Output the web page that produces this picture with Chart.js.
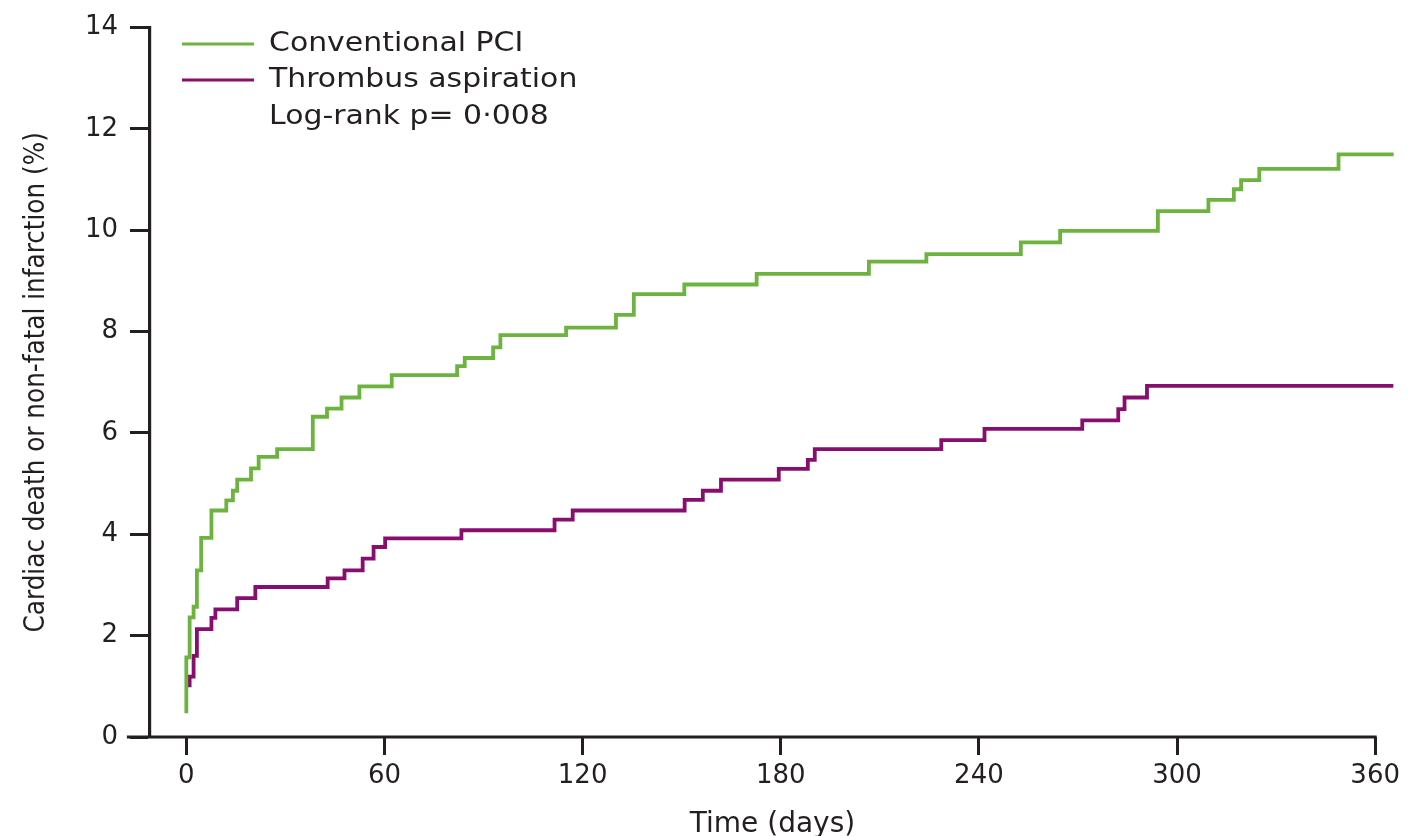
<!DOCTYPE html>
<html>
<head>
<meta charset="utf-8">
<script src="https://cdn.jsdelivr.net/npm/chart.js@4.4.0/dist/chart.umd.min.js"></script>
<style>
  html, body { margin: 0; padding: 0; background: #fff; }
  #wrap { width: 1413px; height: 836px; position: relative; }
</style>
</head>
<body>
<div id="wrap"><canvas id="kmChart"></canvas></div>
<script>
// tick labels
const xTicks = [0, 60, 120, 180, 240, 300, 360];
const yTicks = [0, 2, 4, 6, 8, 10, 12, 14];

// Conventional PCI: event day -> cumulative %
const pciDays = [0, 0, 1.0, 2.2, 3.2, 4.5, 7.6, 12.1, 14.1, 15.4, 19.6, 21.9, 27.5, 38.3, 42.6, 47.0, 52.4, 62.2,
  82.0, 84.3, 92.9, 95.1, 115.0, 130.1, 135.5, 150.8, 172.7, 206.7, 224.1, 252.7, 264.6, 294.2, 309.5,
  317.2, 319.4, 324.9, 348.9, 365.6];
const pciRisk = [0.47, 1.57, 2.36, 2.57, 3.29, 3.93, 4.47, 4.67, 4.86, 5.08, 5.30, 5.53, 5.68, 6.32, 6.48, 6.70, 6.92, 7.14,
  7.32, 7.48, 7.69, 7.93, 8.08, 8.33, 8.74, 8.93, 9.14, 9.38, 9.53, 9.76, 9.99, 10.38, 10.60,
  10.81, 10.99, 11.21, 11.50, 11.50];

// Thrombus aspiration
const aspDays = [1.0, 1.0, 2.2, 3.2, 7.6, 8.8, 15.4, 20.9, 42.8, 47.9, 53.4, 56.7, 60.2, 83.3, 111.5, 117.0, 150.9,
  156.4, 161.9, 179.4, 188.2, 190.3, 228.6, 241.7, 271.3, 282.2, 284.1, 290.9, 365.5];
const aspRisk = [0.98, 1.19, 1.60, 2.13, 2.35, 2.52, 2.74, 2.96, 3.13, 3.29, 3.52, 3.75, 3.92, 4.08, 4.29, 4.47, 4.68,
  4.86, 5.08, 5.29, 5.47, 5.68, 5.86, 6.08, 6.25, 6.47, 6.70, 6.93, 6.93];

const seriesLabels = ['Conventional PCI', 'Thrombus aspiration'];
const seriesColors = ['#6cb43f', '#870e6f'];
const pValueText = 'Log-rank p= 0\u00b7008';

const ink = '#231f20';

function toPoints(xs, ys) {
  return xs.map((x, i) => ({ x: x, y: ys[i] }));
}

// axis line that runs past the y spine and stops at day 360, plus the inset legend
const kmDecor = {
  id: 'kmDecor',
  afterDraw(chart) {
    const ctx = chart.ctx;
    const xs = chart.scales.x;
    const ys = chart.scales.y;
    const y0 = ys.getPixelForValue(0);
    ctx.save();
    ctx.strokeStyle = ink;
    ctx.lineWidth = 3.2;
    ctx.beginPath();
    ctx.moveTo(xs.getPixelForValue(-18), y0);
    ctx.lineTo(xs.getPixelForValue(xTicks[xTicks.length - 1]) + 1.5, y0);
    ctx.stroke();

    const rows = [51, 87, 124];
    ctx.font = '26px "DejaVu Sans"';
    ctx.textBaseline = 'alphabetic';
    ctx.fillStyle = '#231f20';
    chart.data.datasets.forEach((ds, i) => {
      ctx.strokeStyle = ds.borderColor;
      ctx.lineWidth = 3;
      ctx.beginPath();
      ctx.moveTo(182, rows[i] - 7);
      ctx.lineTo(254, rows[i] - 7);
      ctx.stroke();
    });
    const texts = seriesLabels.concat([pValueText]);
    texts.forEach((t, i) => {
      ctx.save();
      ctx.translate(269, rows[i]);
      ctx.scale(1.15, 1);
      ctx.fillText(t, 0, 0);
      ctx.restore();
    });
    ctx.restore();
  }
};

new Chart(document.getElementById('kmChart').getContext('2d'), {
  type: 'line',
  data: {
    datasets: [
      { label: seriesLabels[0], data: toPoints(pciDays, pciRisk), borderColor: seriesColors[0],
        borderWidth: 3.8, stepped: true, pointRadius: 0, fill: false },
      { label: seriesLabels[1], data: toPoints(aspDays, aspRisk), borderColor: seriesColors[1],
        borderWidth: 3.8, stepped: true, pointRadius: 0, fill: false }
    ]
  },
  options: {
    responsive: true,
    maintainAspectRatio: false,
    animation: false,
    devicePixelRatio: 1,
    layout: { padding: { top: 24, right: 18, left: 0, bottom: 0 } },
    plugins: { legend: { display: false }, tooltip: { enabled: false } },
    scales: {
      x: {
        type: 'linear',
        min: -11,
        max: 366,
        afterBuildTicks: (scale) => { scale.ticks = xTicks.map(v => ({ value: v })); },
        afterFit: (scale) => { scale.height = 99; },
        border: { display: false },
        grid: { drawOnChartArea: false, tickLength: 18, tickWidth: 3, tickColor: ink },
        ticks: { padding: 6, color: ink, font: { family: 'DejaVu Sans', size: 26 } },
        title: { display: true, text: 'Time (days)', color: ink, padding: { top: 0, bottom: -6 },
          font: { family: 'DejaVu Sans', size: 28 } }
      },
      y: {
        min: 0,
        max: 14,
        afterBuildTicks: (scale) => { scale.ticks = yTicks.map(v => ({ value: v })); },
        afterFit: (scale) => { scale.width = 150; },
        border: { display: true, color: ink, width: 3.2 },
        grid: { drawOnChartArea: false, tickLength: 20, tickWidth: 3, tickColor: ink },
        ticks: { padding: 12, color: ink, font: { family: 'DejaVu Sans', size: 26 } },
        title: { display: true, text: 'Cardiac death or non-fatal infarction (%)', color: ink,
          padding: { top: 20, bottom: 0 },
          font: { family: '"Liberation Sans Narrow", "DejaVu Sans Condensed", "DejaVu Sans"', size: 27.5 } }
      }
    }
  },
  plugins: [kmDecor]
});
</script>
</body>
</html>
